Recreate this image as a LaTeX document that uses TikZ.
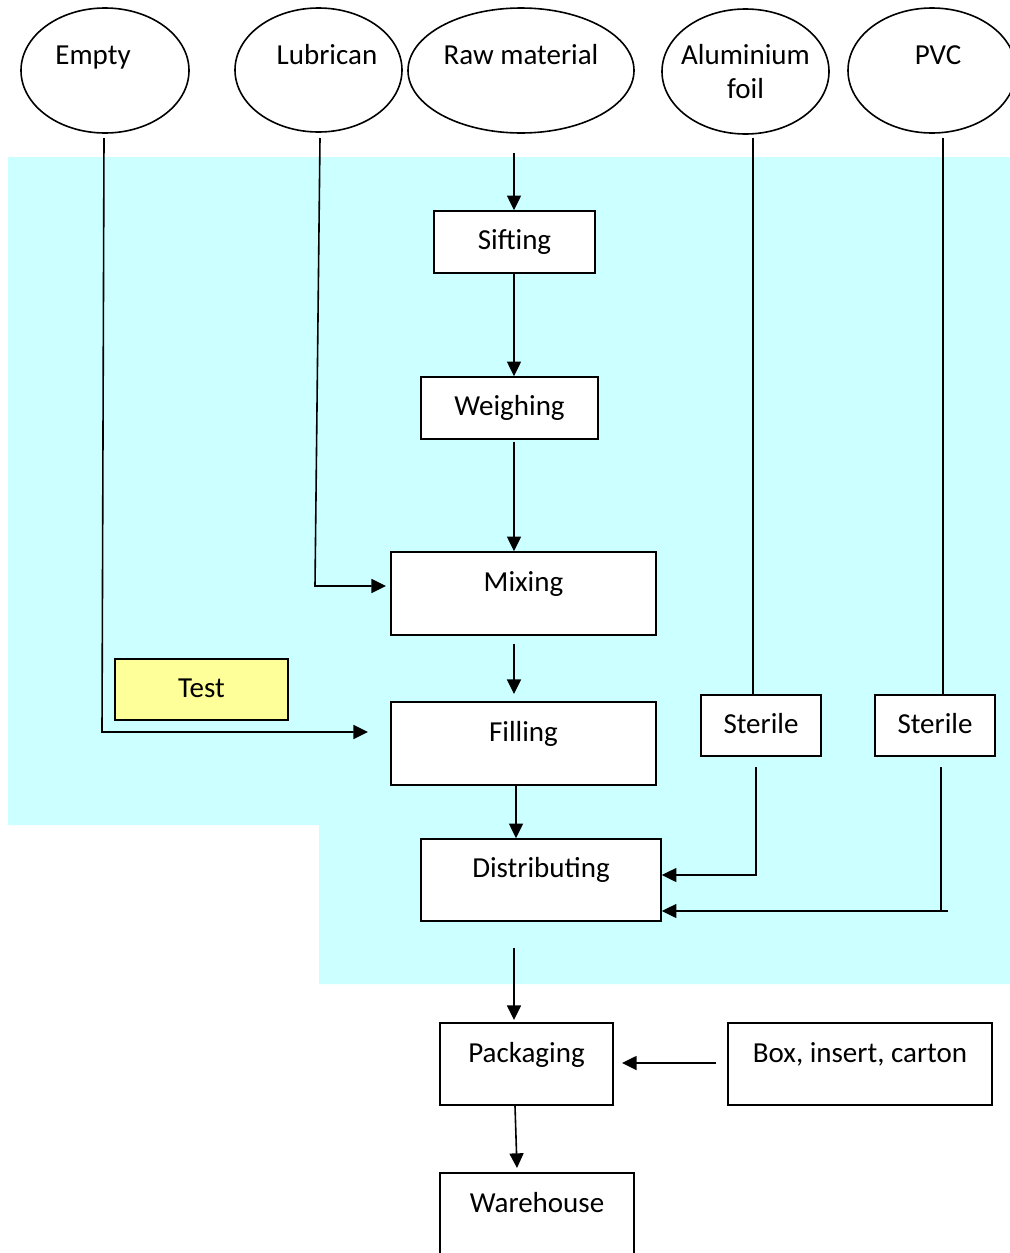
\documentclass[tikz,border=0pt]{standalone}
\usepackage{fontspec}
\setmainfont{Carlito}
\usetikzlibrary{arrows.meta,shapes.geometric}
\definecolor{bgcyan}{RGB}{204,255,255}
\definecolor{testyellow}{RGB}{255,255,153}
\begin{document}
\begin{tikzpicture}[x=0.75pt,y=-0.75pt,
  every node/.style={font=\fontsize{21.75}{25.5}\selectfont, inner sep=0pt, line width=1.2pt},
  tx/.style={text height=19.5pt, text depth=5pt},
  box/.style={draw, rectangle, fill=white},
  oval/.style={draw, ellipse, fill=white, inner xsep=-4pt},
  ln/.style={line width=1.2pt},
  arr/.style={line width=1.2pt, -{Triangle[length=11pt,width=10.5pt]}}]
\useasboundingbox (0,0) rectangle (1010,1253);
% background
\fill[bgcyan] (8,157) -- (1010,157) -- (1010,984) -- (319,984) -- (319,825) -- (8,825) -- cycle;
% inputs
\node[oval, tx, minimum width=126pt, minimum height=93.75pt, text depth=28.25pt] (empty) at (105,70.5) {Empty\hspace*{18pt}};
\node[oval, tx, minimum width=125.25pt, minimum height=93pt, text depth=27.5pt] (lub) at (318.5,70) {\hspace*{12.75pt}Lubrican};
\node[oval, tx, minimum width=169.5pt, minimum height=93.75pt, text depth=28.25pt] (raw) at (521,70.5) {Raw material};
\node[oval, align=center, minimum width=125.25pt, minimum height=93.75pt, inner xsep=-8pt] (alu) at (745.5,71.5) {Aluminium\\foil};
\node[oval, tx, minimum width=126pt, minimum height=93.75pt, text depth=28.25pt] (pvc) at (932,70.5) {\hspace*{9pt}PVC};
% process boxes
\node[box, tx, minimum width=120.75pt, minimum height=46.5pt, text depth=8pt] (sift) at (514.5,242) {Sifting};
\node[box, tx, minimum width=132.75pt, minimum height=46.5pt, text depth=8pt] (weigh) at (509.5,408) {Weighing};
\node[box, tx, minimum width=198.75pt, minimum height=62.25pt, text depth=22.25pt] (mix) at (523.5,593.5) {Mixing};
\node[box, tx, fill=testyellow, minimum width=129.75pt, minimum height=45.75pt, text depth=7pt] (test) at (201.5,689.5) {Test};
\node[box, tx, minimum width=198.75pt, minimum height=62.25pt, text depth=22.25pt] (filln) at (523.5,743.5) {Filling};
\node[box, tx, minimum width=90pt, minimum height=45.75pt, text depth=7pt] (ster1) at (761,725.5) {Sterile};
\node[box, tx, minimum width=90pt, minimum height=45.75pt, text depth=7pt] (ster2) at (935,725.5) {Sterile};
\node[box, tx, minimum width=180pt, minimum height=61.5pt, text depth=23pt] (dist) at (541,880) {Distributing};
\node[box, tx, minimum width=129.75pt, minimum height=61.5pt, text depth=21.5pt] (pack) at (526.5,1064) {Packaging};
\node[box, tx, minimum width=198pt, minimum height=61.5pt, text depth=21.5pt] (boxc) at (860,1064) {Box, insert, carton};
\node[box, tx, minimum width=145.5pt, minimum height=64.5pt, text depth=24.5pt] (ware) at (537,1216) {Warehouse};
% main flow
\coordinate (r0) at (514,153);
\draw[arr] (r0) -- (r0 |- sift.north);
\draw[arr] (r0 |- sift.south) -- (r0 |- weigh.north);
\coordinate (w0) at (514,442);
\draw[arr] (w0) -- (w0 |- mix.north);
\coordinate (m0) at (514,644); \coordinate (m1) at (514,694);
\draw[arr] (m0) -- (m1);
\coordinate (f0) at (516,786);
\draw[arr] (f0) -- (f0 |- dist.north);
\coordinate (d0) at (514,948); \coordinate (d1) at (514,1020);
\draw[arr] (d0) -- (d1);
\coordinate (p0) at (515,1106); \coordinate (p1) at (517,1168);
\draw[arr] (p0) -- (p1);
\coordinate (b0) at (716,1063); \coordinate (b1) at (622,1063);
\draw[arr] (b0) -- (b1);
% side inputs
\coordinate (e0) at (104,138); \coordinate (e1) at (102,732); \coordinate (e3) at (368,732);
\draw[arr] (e0) -- (e1) -- (e3);
\coordinate (l0) at (320,138); \coordinate (l1) at (315,586); \coordinate (l2) at (386,586);
\draw[arr] (l0) -- (l1) -- (l2);
\coordinate (a0) at (753,138);
\draw[ln] (a0) -- (a0 |- ster1.north);
\coordinate (v0) at (943,138);
\draw[ln] (v0) -- (v0 |- ster2.north);
\coordinate (s0) at (756,767); \coordinate (s1) at (756,875);
\draw[arr] (s0) -- (s1) -- (s1 -| dist.east);
\coordinate (t0) at (941,767); \coordinate (t1) at (941,911); \coordinate (t2) at (948,911);
\draw[ln] (t0) -- (t1);
\draw[arr] (t2) -- (t2 -| dist.east);
\end{tikzpicture}
\end{document}
